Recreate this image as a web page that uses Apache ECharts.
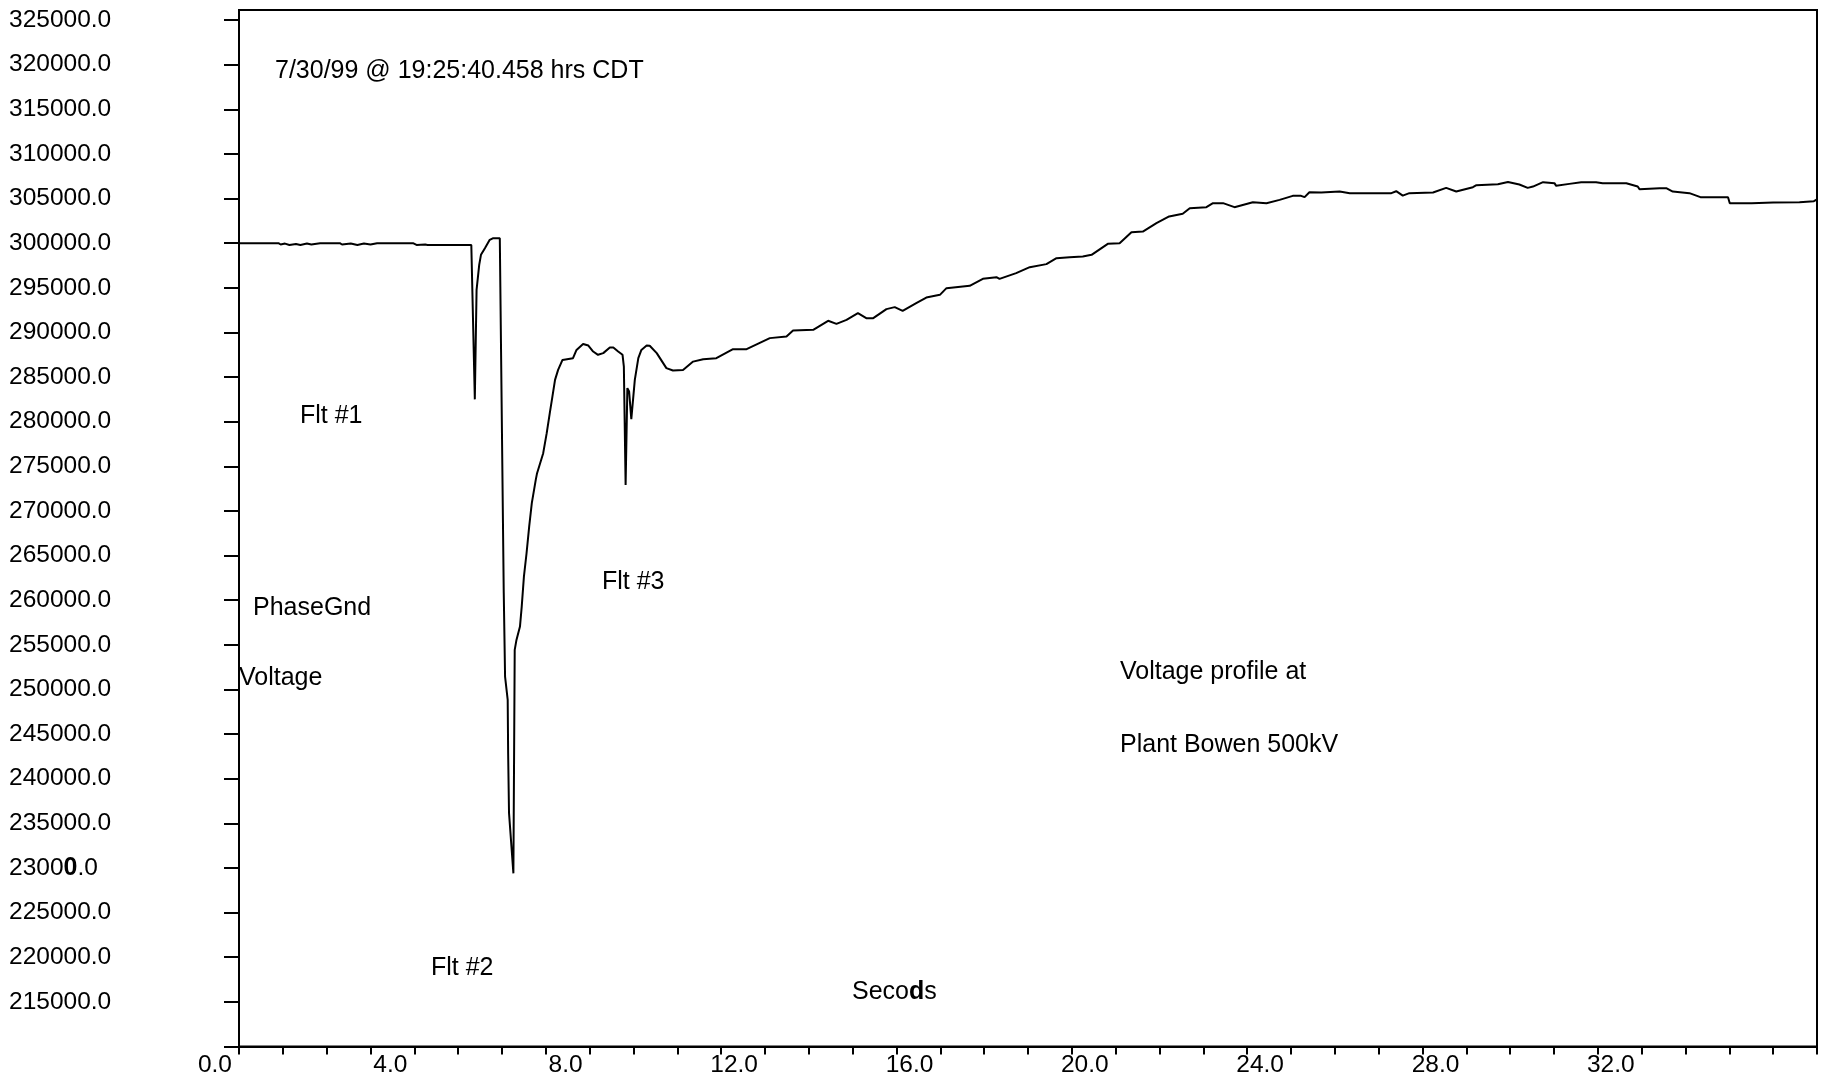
<!DOCTYPE html>
<html>
<head>
<meta charset="utf-8">
<style>
html,body{margin:0;padding:0;background:#fff;}
#chart{width:1825px;height:1081px;}
</style>
<script src="https://cdn.jsdelivr.net/npm/echarts@6/dist/echarts.min.js"></script>
</head>
<body>
<div id="chart"></div>
<script>
// ---- data (seconds, phase-ground voltage) ----
const seconds = [
  0.00,0.90,0.95,1.05,1.15,1.30,1.40,1.55,1.65,1.85,2.30,2.35,2.55,2.70,2.85,3.00,3.15,3.97,4.05,4.25,4.30,5.30,5.34,
  5.38,5.42,5.48,5.52,5.61,5.72,5.80,5.95,5.99,
  6.04,6.07,6.13,6.14,6.16,6.26,
  6.29,6.33,6.41,6.45,6.50,6.56,6.62,6.68,6.77,6.80,6.94,7.02,7.09,7.15,7.21,7.28,7.38,7.62,7.70,7.85,7.97,
  8.08,8.19,8.31,8.46,8.54,8.65,8.75,8.78,8.82,8.86,8.90,8.95,9.03,9.11,9.18,9.30,9.37,9.53,9.75,9.90,
  10.13,10.36,10.59,10.89,11.27,11.58,12.11,12.49,12.64,13.10,13.44,13.63,13.86,14.12,14.31,14.47,14.77,14.96,
  15.14,15.45,15.68,15.99,16.14,16.67,16.97,17.28,17.35,17.73,18.04,18.42,18.65,18.95,19.25,19.45,19.82,
  20.09,20.36,20.62,20.93,21.22,21.53,21.69,22.07,22.22,22.45,22.71,23.13,23.44,23.74,24.04,24.23,24.31,
  24.42,24.69,25.11,25.34,26.29,26.40,26.55,26.70,27.24,27.54,27.77,28.15,28.23,28.72,28.95,29.21,29.40,
  29.52,29.75,30.01,30.05,30.35,30.62,30.96,31.11,31.65,31.91,31.95,32.41,32.56,32.71,33.09,33.34,33.97,
  34.01,34.51,35.00,35.60,35.93,36.00
];
const voltage = [
  300000,300000,299850,299950,299800,299900,299800,299950,299850,300000,300000,299850,299950,299800,299950,299850,300000,300000,299800,299850,299800,299800,299800,
  282500,294770,297570,298690,299440,300370,300560,300560,300370,
  260820,251440,248830,242890,236170,229400,
  254430,255550,257040,259280,262640,265260,268250,270870,273480,274230,276470,278710,280950,282810,284680,285800,286920,287110,288040,288710,288530,
  287860,287490,287680,288300,288300,287860,287490,286170,272900,283760,283380,280280,284680,287110,288040,288530,288500,287680,286000,285730,
  285800,286730,287000,287110,288120,288120,289360,289540,290210,290290,291300,290960,291410,292160,291600,291600,292610,292830,
  292420,293280,293910,294210,294960,295220,296000,296190,296000,296640,297310,297650,298320,298430,298500,298690,299920,
  300000,301230,301300,302240,302990,303290,303920,304030,304480,304480,304030,304590,304480,304850,305300,305300,305150,
  305710,305670,305780,305600,305600,305820,305330,305600,305670,306190,305780,306270,306490,306600,306860,306570,306190,
  306340,306830,306720,306420,306640,306830,306830,306720,306720,306340,306050,306160,306160,305780,305600,305150,305150,
  304480,304480,304550,304590,304700,304900
];
const yTickValues = [210000,215000,220000,225000,230000,235000,240000,245000,250000,255000,260000,265000,270000,275000,280000,285000,290000,295000,300000,305000,310000,315000,320000,325000];
const yLabelValues = yTickValues.slice(1);
const xLabelValues = [0,4,8,12,16,20,24,28,32];
const xTickValues = [0,1,2,3,4,5,6,7,8,9,10,11,12,13,14,15,16,17,18,19,20,21,22,23,24,25,26,27,28,29,30,31,32,33,34,35,36];
const annotations = [
  {text: '7/30/99 @ 19:25:40.458 hrs CDT', x: 275, y: 71},
  {text: 'Flt #1', x: 300, y: 416},
  {text: 'PhaseGnd', x: 253, y: 608},
  {text: 'Voltage', x: 239, y: 678},
  {text: 'Flt #3', x: 602, y: 582},
  {text: 'Flt #2', x: 431, y: 968},
  {text: '{n|Seco}{b|d}{n|s}', x: 852, y: 992},
  {text: 'Voltage profile at', x: 1120, y: 672},
  {text: 'Plant Bowen 500kV', x: 1120, y: 745}
];

const FONT = '"Liberation Sans", Arial, sans-serif';
const chart = echarts.init(document.getElementById('chart'));
const points = seconds.map((s, i) => [s, voltage[i]]);

chart.setOption({
  animation: false,
  backgroundColor: '#fff',
  grid: {left: 239, right: 8, top: 10, bottom: 34.5, show: true, borderColor: '#000', borderWidth: 2, backgroundColor: 'transparent'},
  xAxis: {
    type: 'value', min: 0, max: 36, interval: 1,
    axisLine: {show: true, lineStyle: {color: '#000', width: 2}},
    axisTick: {show: true, length: 8, lineStyle: {color: '#000', width: 2}, customValues: xTickValues},
    splitLine: {show: false},
    axisLabel: {
      customValues: xLabelValues,
      color: '#000', fontFamily: FONT, fontSize: 24.5, align: 'right', padding: [0, 7, 0, 0], margin: 6,
      formatter: v => (v % 4 === 0 && v < 36) ? v.toFixed(1) : ''
    }
  },
  yAxis: {
    type: 'value', min: 210000, max: 326120, interval: 5000,
    axisLine: {show: true, lineStyle: {color: '#000', width: 2}},
    axisTick: {show: true, length: 15, lineStyle: {color: '#000', width: 2}, customValues: yTickValues},
    splitLine: {show: false},
    axisLabel: {
      customValues: yLabelValues,
      color: '#000', fontFamily: FONT, fontSize: 24.5, align: 'left', margin: 230,
      formatter: v => {
        if (v % 5000 !== 0 || v === 210000) return '';
        if (v === 230000) return '2300{b|0}.0';
        return v.toFixed(1);
      },
      rich: {b: {fontWeight: 'bold', fontFamily: FONT, fontSize: 25, color: '#000'}}
    }
  },
  series: [{
    type: 'line', data: points, showSymbol: false, symbol: 'none',
    lineStyle: {color: '#000', width: 2}, clip: true
  }],
  graphic: annotations.map(a => ({
    type: 'text', x: a.x, y: a.y, z: 100,
    style: {
      text: a.text, fill: '#000', font: '25px ' + FONT, textVerticalAlign: 'middle', verticalAlign: 'middle',
      rich: {
        n: {fontFamily: FONT, fontSize: 25, fill: '#000', color: '#000'},
        b: {fontFamily: FONT, fontSize: 25, fontWeight: 'bold', fill: '#000', color: '#000'}
      }
    }
  }))
});
</script>
</body>
</html>
